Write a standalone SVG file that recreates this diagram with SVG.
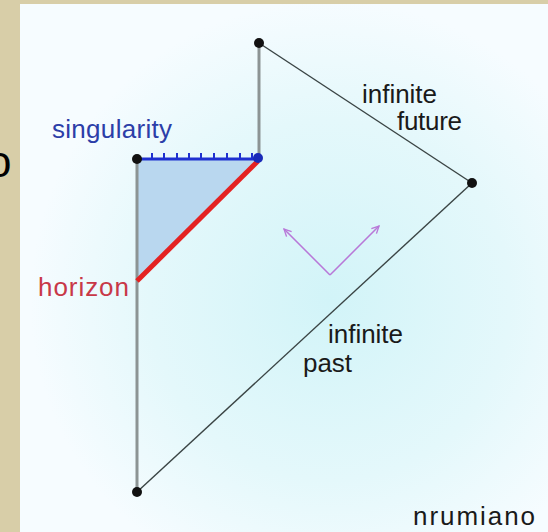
<svg xmlns="http://www.w3.org/2000/svg" width="548" height="532" viewBox="0 0 548 532">
  <defs>
    <radialGradient id="panelGrad" cx="330" cy="300" r="300" gradientUnits="userSpaceOnUse">
      <stop offset="0" stop-color="#d2f4f8"/>
      <stop offset="0.6" stop-color="#e4f8fb"/>
      <stop offset="1" stop-color="#f6fcff"/>
    </radialGradient>
    <marker id="openHead" viewBox="0 0 10 10" refX="9" refY="5" markerWidth="9" markerHeight="9" markerUnits="userSpaceOnUse" orient="auto">
      <path d="M1,1 L9,5 L1,9" fill="none" stroke="#b878d8" stroke-width="1.5"/>
    </marker>
    <style>
      .lbl { font-family: "Liberation Sans", Arial, sans-serif; font-size: 26px; }
      .gray { stroke: #8c9494; stroke-width: 3; fill: none; }
      .thin { stroke: #3a4444; stroke-width: 1.4; fill: none; }
      .dot { fill: #111111; }
      .arrow { stroke: #b878d8; stroke-width: 1.5; fill: none; }
      .tick { stroke: #1e30d0; stroke-width: 2; }
    </style>
  </defs>

  <!-- background -->
  <rect x="0" y="0" width="548" height="532" fill="#d8cea8"/>
  <rect x="20" y="4" width="528" height="528" fill="url(#panelGrad)"/>
  <text x="-13" y="177" style="font-family: 'Liberation Sans', Arial, sans-serif; font-size: 44px;" fill="#000000">o</text>

  <!-- black hole interior region -->
  <g id="interior">
    <polygon points="137,159 258,159 137,280" fill="#b9d7ef"/>
  </g>

  <!-- connectors -->
  <g id="connectors">
    <line class="gray" x1="137" y1="159" x2="137" y2="492"/>
    <line class="gray" x1="259" y1="43" x2="259" y2="159"/>
    <line class="thin" x1="259" y1="43" x2="472" y2="183"/>
    <line class="thin" x1="137" y1="492" x2="472" y2="183"/>
    <g id="singularity-line">
      <line x1="137" y1="159" x2="259" y2="159" stroke="#1e30d0" stroke-width="3"/>
      <line class="tick" x1="152" y1="159" x2="152" y2="153"/>
      <line class="tick" x1="164" y1="159" x2="164" y2="153"/>
      <line class="tick" x1="177" y1="159" x2="177" y2="153"/>
      <line class="tick" x1="189" y1="159" x2="189" y2="153"/>
      <line class="tick" x1="201" y1="159" x2="201" y2="153"/>
      <line class="tick" x1="214" y1="159" x2="214" y2="153"/>
      <line class="tick" x1="227" y1="159" x2="227" y2="153"/>
      <line class="tick" x1="240" y1="159" x2="240" y2="153"/>
      <line class="tick" x1="252" y1="159" x2="252" y2="153"/>
    </g>
    <line id="horizon-line" x1="258" y1="161" x2="137" y2="281" stroke="#e42222" stroke-width="5"/>
    <g id="light-cone">
      <line class="arrow" x1="330" y1="275" x2="284" y2="229" marker-end="url(#openHead)"/>
      <line class="arrow" x1="330" y1="275" x2="379" y2="226" marker-end="url(#openHead)"/>
    </g>
  </g>

  <!-- nodes -->
  <g id="node-top"><circle class="dot" cx="259" cy="43" r="5"/></g>
  <g id="node-right"><circle class="dot" cx="472" cy="183" r="5"/></g>
  <g id="node-bottom"><circle class="dot" cx="137" cy="492" r="5"/></g>
  <g id="node-singularity-left"><circle class="dot" cx="137" cy="159" r="5"/></g>
  <g id="node-singularity-right"><circle cx="258" cy="158" r="5" fill="#1a2ab8"/></g>

  <!-- labels -->
  <g id="labels">
    <text class="lbl" x="52" y="138" fill="#2c3ea8" textLength="120">singularity</text>
    <text class="lbl" x="38" y="296" fill="#c83848" textLength="91">horizon</text>
    <text class="lbl" x="362" y="103" fill="#1a1a1a" textLength="75">infinite</text>
    <text class="lbl" x="397" y="130" fill="#1a1a1a" textLength="65">future</text>
    <text class="lbl" x="328" y="343" fill="#1a1a1a" textLength="75">infinite</text>
    <text class="lbl" x="303" y="372" fill="#1a1a1a" textLength="49">past</text>
    <text class="lbl" x="413" y="525" fill="#1a1a1a" textLength="122">nrumiano</text>
  </g>
</svg>
